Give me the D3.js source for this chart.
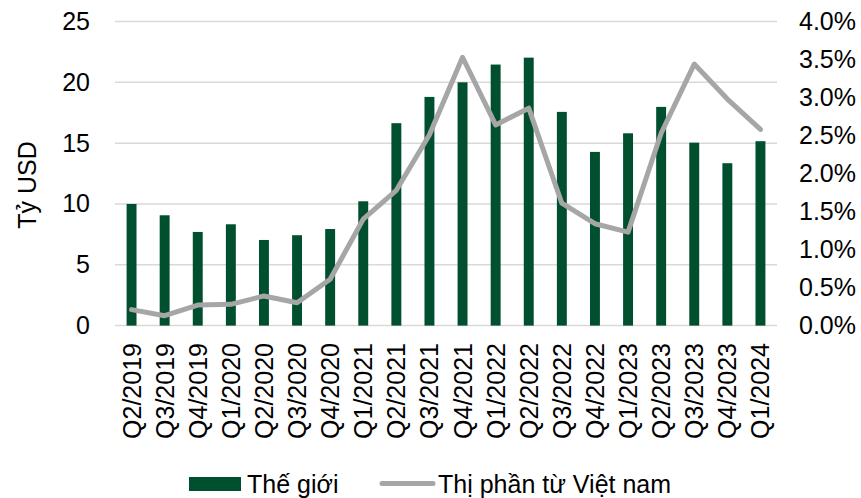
<!DOCTYPE html>
<html>
<head>
<meta charset="utf-8">
<script src="https://cdn.jsdelivr.net/npm/d3@7"></script>
<style>
  html, body { margin: 0; padding: 0; background: #fff; }
  svg { display: block; font-family: "Liberation Sans", Arial, sans-serif; }
</style>
</head>
<body>
<svg id="chart" width="861" height="498"></svg>
<script>
// Quarterly categories
const quarters = [
  "Q2/2019", "Q3/2019", "Q4/2019", "Q1/2020", "Q2/2020", "Q3/2020", "Q4/2020",
  "Q1/2021", "Q2/2021", "Q3/2021", "Q4/2021", "Q1/2022", "Q2/2022", "Q3/2022",
  "Q4/2022", "Q1/2023", "Q2/2023", "Q3/2023", "Q4/2023", "Q1/2024"
];
// World value, billion USD (left axis)
const worldValues = [
  10.0, 9.07, 7.7, 8.33, 7.04, 7.43, 7.94, 10.22, 16.64, 18.8,
  20.0, 21.46, 22.03, 17.57, 14.28, 15.81, 17.98, 15.04, 13.35, 15.16
];
// Share from Viet Nam, percent (right axis)
const vietnamShare = [
  0.21, 0.13, 0.27, 0.28, 0.39, 0.30, 0.61, 1.40, 1.78, 2.51,
  3.53, 2.64, 2.86, 1.61, 1.34, 1.23, 2.53, 3.44, 2.98, 2.58
];
const leftTicks = [0, 5, 10, 15, 20, 25];
const rightTicks = [0, 0.5, 1.0, 1.5, 2.0, 2.5, 3.0, 3.5, 4.0];
const seriesNames = ["Thế giới", "Thị phần từ Việt nam"];
const axisTitle = "Tỷ USD";

const svg = d3.select("#chart");
const plotLeft = 115, plotRight = 777, plotTop = 21.5, plotBottom = 325.6;
const fontSize = 25;
const barColor = "#00502f", lineColor = "#a6a6a6", gridColor = "#d9d9d9";

const x = d3.scaleBand().domain(quarters).range([plotLeft, plotRight])
  .paddingInner(0.7).paddingOuter(0.35);
const yL = d3.scaleLinear().domain([0, 25]).range([plotBottom, plotTop]);
const yR = d3.scaleLinear().domain([0, 4]).range([plotBottom, plotTop]);

// Horizontal gridlines
svg.append("g").selectAll("line").data(leftTicks).join("line")
  .attr("x1", plotLeft).attr("x2", plotRight)
  .attr("y1", d => yL(d)).attr("y2", d => yL(d))
  .attr("stroke", gridColor).attr("stroke-width", 1.5);

// Left axis
const axL = svg.append("g").attr("transform", `translate(${plotLeft},0)`)
  .call(d3.axisLeft(yL).tickValues(leftTicks).tickSize(0).tickPadding(25).tickFormat(d3.format("d")));
axL.select(".domain").remove();
axL.selectAll("text").attr("font-size", fontSize).attr("fill", "#000")
  .attr("font-family", "Liberation Sans, Arial, sans-serif");

// Right axis
const axR = svg.append("g").attr("transform", `translate(${plotRight},0)`)
  .call(d3.axisRight(yR).tickValues(rightTicks).tickSize(0).tickPadding(22).tickFormat(d => d.toFixed(1) + "%"));
axR.select(".domain").remove();
axR.selectAll("text").attr("font-size", fontSize).attr("fill", "#000")
  .attr("font-family", "Liberation Sans, Arial, sans-serif");

// Left axis title
svg.append("text")
  .attr("transform", "translate(36,185) rotate(-90)")
  .attr("text-anchor", "middle")
  .attr("font-size", fontSize).attr("fill", "#000")
  .text(axisTitle);

// Bars
svg.append("g").selectAll("rect").data(worldValues).join("rect")
  .attr("x", (d, i) => x(quarters[i]))
  .attr("width", x.bandwidth())
  .attr("y", d => yL(d))
  .attr("height", d => yL(0) - yL(d))
  .attr("fill", barColor);

// Share line
const line = d3.line()
  .x((d, i) => x(quarters[i]) + x.bandwidth() / 2)
  .y(d => yR(d));
svg.append("path").datum(vietnamShare)
  .attr("d", line)
  .attr("fill", "none")
  .attr("stroke", lineColor)
  .attr("stroke-width", 5)
  .attr("stroke-linejoin", "round")
  .attr("stroke-linecap", "round");

// Category labels, rotated
svg.append("g").selectAll("text").data(quarters).join("text")
  .attr("transform", d => `translate(${x(d) + x.bandwidth() / 2 + 9},343) rotate(-90)`)
  .attr("text-anchor", "end")
  .attr("font-size", fontSize).attr("fill", "#000")
  .text(d => d);

// Legend
const lg = svg.append("g");
lg.append("rect").attr("x", 189).attr("y", 477).attr("width", 52).attr("height", 14).attr("fill", barColor);
lg.append("text").attr("x", 247).attr("y", 493).attr("font-size", fontSize).attr("fill", "#000").text(seriesNames[0]);
lg.append("line").attr("x1", 382).attr("x2", 433).attr("y1", 483.5).attr("y2", 483.5)
  .attr("stroke", lineColor).attr("stroke-width", 5).attr("stroke-linecap", "round");
lg.append("text").attr("x", 438).attr("y", 493).attr("font-size", fontSize).attr("fill", "#000").text(seriesNames[1]);
</script>
</body>
</html>
